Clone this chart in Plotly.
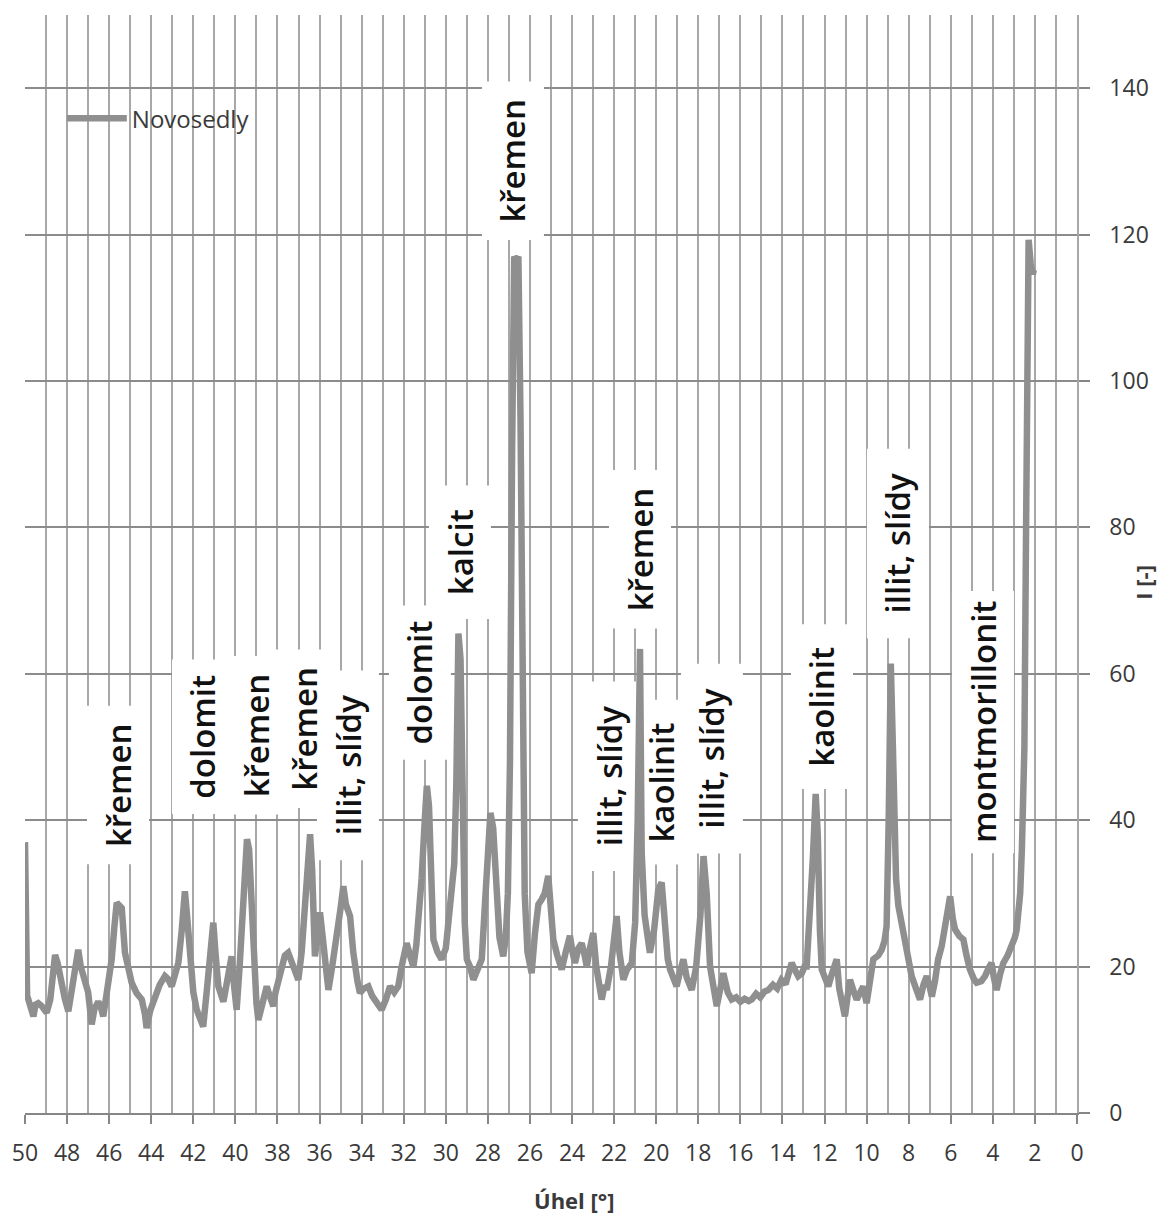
import plotly.graph_objects as go

# Diffraction pattern, sample "Novosedly": angle (deg) vs intensity
angle = [
    50.0, 49.95, 49.9, 49.84, 49.7, 49.6, 49.5, 49.37, 49.2, 48.97, 48.8, 48.65, 48.57, 48.45,
    48.34, 48.2, 48.1, 47.94, 47.8, 47.6, 47.47, 47.35, 47.15, 47.0, 46.83, 46.7, 46.52, 46.4,
    46.28, 46.1, 45.88, 45.75, 45.64, 45.5, 45.4, 45.25, 45.1, 44.93, 44.7, 44.45, 44.3, 44.22,
    44.05, 43.82, 43.6, 43.35, 43.2, 43.03, 42.85, 42.71, 42.55, 42.4, 42.3, 42.16, 42.0, 41.84,
    41.7, 41.53, 41.35, 41.2, 41.05, 40.95, 40.81, 40.57, 40.4, 40.18, 40.05, 39.94, 39.8, 39.6,
    39.45, 39.35, 39.15, 39.0, 38.91, 38.7, 38.51, 38.35, 38.2, 38.1, 37.95, 37.8,
    37.65, 37.49, 37.3, 37.1, 37.01, 36.85, 36.7, 36.55, 36.45, 36.35, 36.22, 36.1, 35.98, 35.85,
    35.7, 35.58, 35.4, 35.19, 35.0, 34.87, 34.75, 34.55, 34.4, 34.2, 34.08, 33.9, 33.68, 33.5,
    33.3, 33.05, 32.85, 32.65, 32.45, 32.26, 32.1, 31.86, 31.7, 31.54, 31.4, 31.31, 31.15, 31.0,
    30.9, 30.8, 30.7, 30.59, 30.4, 30.2, 30.0, 29.8, 29.6, 29.5, 29.4, 29.3, 29.2, 29.1, 29.0,
    28.85, 28.69, 28.5, 28.29, 28.15, 28.0, 27.88, 27.75, 27.6, 27.45, 27.27, 27.15, 27.05, 26.95,
    26.85, 26.75, 26.65, 26.55, 26.45, 26.35, 26.25, 26.12, 26.0, 25.92, 25.76, 25.6, 25.44,
    25.3, 25.13, 25.0, 24.89, 24.7, 24.49, 24.3, 24.1, 23.98, 23.86, 23.7, 23.54, 23.4, 23.3,
    23.15, 22.99, 22.85, 22.7, 22.59, 22.45, 22.35, 22.15, 21.98, 21.88, 21.75, 21.56, 21.4,
    21.16, 21.0, 20.88, 20.77, 20.69, 20.55, 20.4, 20.3, 20.1, 19.9, 19.74, 19.6, 19.45, 19.34,
    19.2, 19.03, 18.85, 18.71, 18.55, 18.4, 18.31, 18.1, 17.9, 17.75, 17.6, 17.44, 17.25, 17.12,
    16.95, 16.81, 16.6, 16.41, 16.2, 16.0, 15.8, 15.6, 15.46, 15.25, 15.05, 14.85, 14.67, 14.45,
    14.25, 14.05, 13.85, 13.7, 13.56, 13.4, 13.25, 13.08, 12.95, 12.85, 12.7, 12.55, 12.42, 12.32,
    12.22, 12.13, 11.98, 11.82, 11.65, 11.42, 11.3, 11.15, 11.03, 10.9, 10.79, 10.6, 10.47, 10.3,
    10.16, 10.0, 9.85, 9.68, 9.45, 9.28, 9.15, 9.05, 8.95, 8.85, 8.75, 8.6, 8.49, 8.3, 8.09, 7.95,
    7.86, 7.65, 7.46, 7.3, 7.14, 7.0, 6.9, 6.75, 6.6, 6.43, 6.25, 6.1, 6.03, 5.9, 5.8, 5.6, 5.4,
    5.25, 5.09, 4.9, 4.77, 4.55, 4.37, 4.2, 4.06, 3.95, 3.82, 3.65, 3.5, 3.3, 3.1, 2.95, 2.87,
    2.7, 2.62, 2.5, 2.42, 2.36, 2.3, 2.2, 2.1, 2.05,
]
intensity = [
    37, 22, 16, 15.5, 14.5, 13.2, 14.8, 15, 14.6, 13.7, 15.5, 19, 21.6, 20.5,
    18.7, 16.5, 15.5, 13.9, 16.5, 20, 22.3, 20, 17.8, 16.5, 12.1, 14.2, 15.2, 14.5,
    13.2, 17, 21, 25.5, 28.7, 28.3, 28, 21.9, 19.5, 17.8, 16.4, 15.5, 13.5, 11.6,
    14, 15.9, 17.5, 18.7, 18.3, 17.3, 19, 20.5, 25, 30.3, 27, 21, 16.5, 14.1,
    13, 11.8, 17, 22, 26, 22, 17.3, 15.2, 18, 21.4, 17, 14.1, 20, 30,
    37.4, 36, 22.8, 15, 12.7, 15.5, 17.3, 15.8, 14.6, 16.4, 18, 20,
    21.5, 21.9, 20.5, 19, 18.2, 22, 28, 36, 38.1, 33, 21.4, 24, 27.4, 24,
    19, 16.8, 20, 23.7, 28, 31, 28.5, 26.9, 22, 18, 16.4, 17, 17.3, 16,
    15.2, 14.1, 15.5, 17.3, 16.5, 17.3, 20, 23.2, 21.5, 20, 23, 25.5, 32, 40,
    44.7, 42, 30, 23.7, 22, 21, 22.5, 28.3, 34, 45, 65.5, 62, 40, 26, 21,
    20, 18.2, 19.5, 21, 28, 36, 41, 39, 30, 24, 21.4, 24, 30, 48,
    90, 117, 116.5, 117, 95, 55, 30, 22, 19.5, 19.1, 24.6, 28.5, 29.2,
    30, 32.4, 28, 23.7, 21.5, 19.6, 22, 24.2, 22, 20.5, 22.5, 23.2, 21.5, 20,
    22.5, 24.6, 20, 17, 15.5, 17.5, 16.8, 20, 24, 26.9, 22, 18.2, 19.5,
    20.5, 26, 40, 63.4, 35.6, 27, 23, 21.9, 25, 30.5, 31.5, 26, 21, 19.6,
    18.3, 17.3, 19.5, 21, 18.5, 17.5, 16.8, 20, 27, 35.1, 30, 20, 16, 14.6,
    17, 19.1, 16.5, 15.5, 15.8, 15.2, 15.6, 15.3, 15.5, 16.3, 15.8, 16.6, 16.8, 17.5,
    17, 18.2, 17.6, 19.6, 20.5, 19.5, 18.7, 19.1, 20, 20, 26, 35, 43.6, 38,
    25, 19.6, 18.5, 17.3, 19, 21, 17, 15, 13.2, 16, 18.2, 16.5, 15.5, 16.5,
    17.3, 15, 18, 21, 21.5, 22.3, 23.5, 25.5, 40, 61.4, 50, 32, 28.3, 25, 21.9, 20,
    18.7, 17, 15.5, 17.5, 18.7, 17.2, 15.9, 18, 21, 22.8, 25.5, 28, 29.6, 26.5, 25.1, 24.2, 23.7,
    21.5, 19.6, 18.3, 17.8, 18, 18.7, 19.8, 20.5, 18.5, 16.8, 19, 20.5, 21.5, 22.8, 24, 25,
    30, 36, 50, 80, 108, 119.3, 116, 114.6, 115.2,
]

# Phase labels placed above their peaks
phase_names = [
    "křemen", "dolomit", "křemen", "křemen", "illit, slídy", "dolomit", "kalcit", "křemen",
    "illit, slídy", "křemen", "kaolinit", "illit, slídy", "kaolinit", "illit, slídy", "montmorillonit",
]
phase_angle = [45.58, 41.54, 39.02, 36.69, 34.65, 31.23, 29.33, 26.81, 22.25, 20.77, 19.75, 17.35, 12.12, 8.51, 4.47]
phase_level = [44.8, 51.4, 51.6, 52.5, 47.5, 58.8, 76.6, 130.1, 46.0, 77.0, 45.2, 48.4, 55.5, 77.8, 53.4]

FONT = "Open Sans"
LINE = "#8f8f8f"
TEXT = "#3a3a3a"
LABEL_SIZE = 33


def label_length(text):
    """Rough rendered length (px) of a rotated phase label."""
    narrow, medium = set("iltí,. "), set("rsř")
    units = sum(0.3 if c in narrow else 0.42 if c in medium else 0.6 for c in text)
    return units * LABEL_SIZE * 1.05


fig = go.Figure()
fig.add_trace(go.Scatter(
    x=angle, y=intensity, mode="lines", name="Novosedly",
    line=dict(color=LINE, width=6.5),
))

for name, xa, ya in zip(phase_names, phase_angle, phase_level):
    half = label_length(name) / 2 + 20
    # white panel behind the label: hides the grid, the curve stays on top
    fig.add_shape(
        type="rect", layer="between", xref="x", yref="y",
        xsizemode="pixel", xanchor=xa, x0=-31, x1=31,
        ysizemode="pixel", yanchor=ya, y0=-half, y1=half,
        fillcolor="white", line=dict(width=0),
    )
    fig.add_annotation(
        x=xa, y=ya, text=name, textangle=-90, showarrow=False,
        font=dict(family=FONT, size=LABEL_SIZE, color="#111111", weight=600),
    )

# Axis titles as free text so their placement stays fixed
fig.add_annotation(
    x=0.522, y=-0.079, xref="paper", yref="paper", xanchor="center", yanchor="middle",
    text="<b>Úhel [°]</b>", showarrow=False, font=dict(family=FONT, size=22, color=TEXT),
)
fig.add_annotation(
    x=1.0, xshift=66, y=0.483, xref="paper", yref="paper", xanchor="center", yanchor="middle",
    text="<b>I [-]</b>", textangle=-90, showarrow=False,
    font=dict(family=FONT, size=22, color=TEXT),
)

fig.update_xaxes(
    range=[50, 0], tick0=0, dtick=2, automargin=False,
    ticks="outside", ticklen=9, tickwidth=1.5, tickcolor="#868686",
    showgrid=True, gridcolor="#a8a8a8", gridwidth=1.5,
    minor=dict(dtick=1, showgrid=True, gridcolor="#a8a8a8", gridwidth=1.5),
    showline=True, linecolor="#868686", linewidth=1.5, zeroline=False,
    tickfont=dict(family=FONT, size=23, color=TEXT), ticklabelstandoff=10,
)
fig.update_yaxes(
    range=[0, 150], tick0=0, dtick=20, side="right", automargin=False,
    ticks="outside", ticklen=11, tickwidth=1.5, tickcolor="#868686",
    showgrid=True, gridcolor="#8c8c8c", gridwidth=1.5,
    showline=True, linecolor="#a8a8a8", linewidth=1.5, zeroline=False,
    tickfont=dict(family=FONT, size=23, color=TEXT), ticklabelstandoff=15,
)

fig.update_layout(
    width=1161, height=1218,
    margin=dict(l=25, r=84, t=15, b=105),
    paper_bgcolor="white", plot_bgcolor="white",
    showlegend=True,
    legend=dict(
        x=0.035, y=0.926, xanchor="left", yanchor="top",
        bgcolor="rgba(255,255,255,0)", itemwidth=60,
        font=dict(family=FONT, size=24, color=TEXT),
    ),
)

fig.write_html("out.html")
